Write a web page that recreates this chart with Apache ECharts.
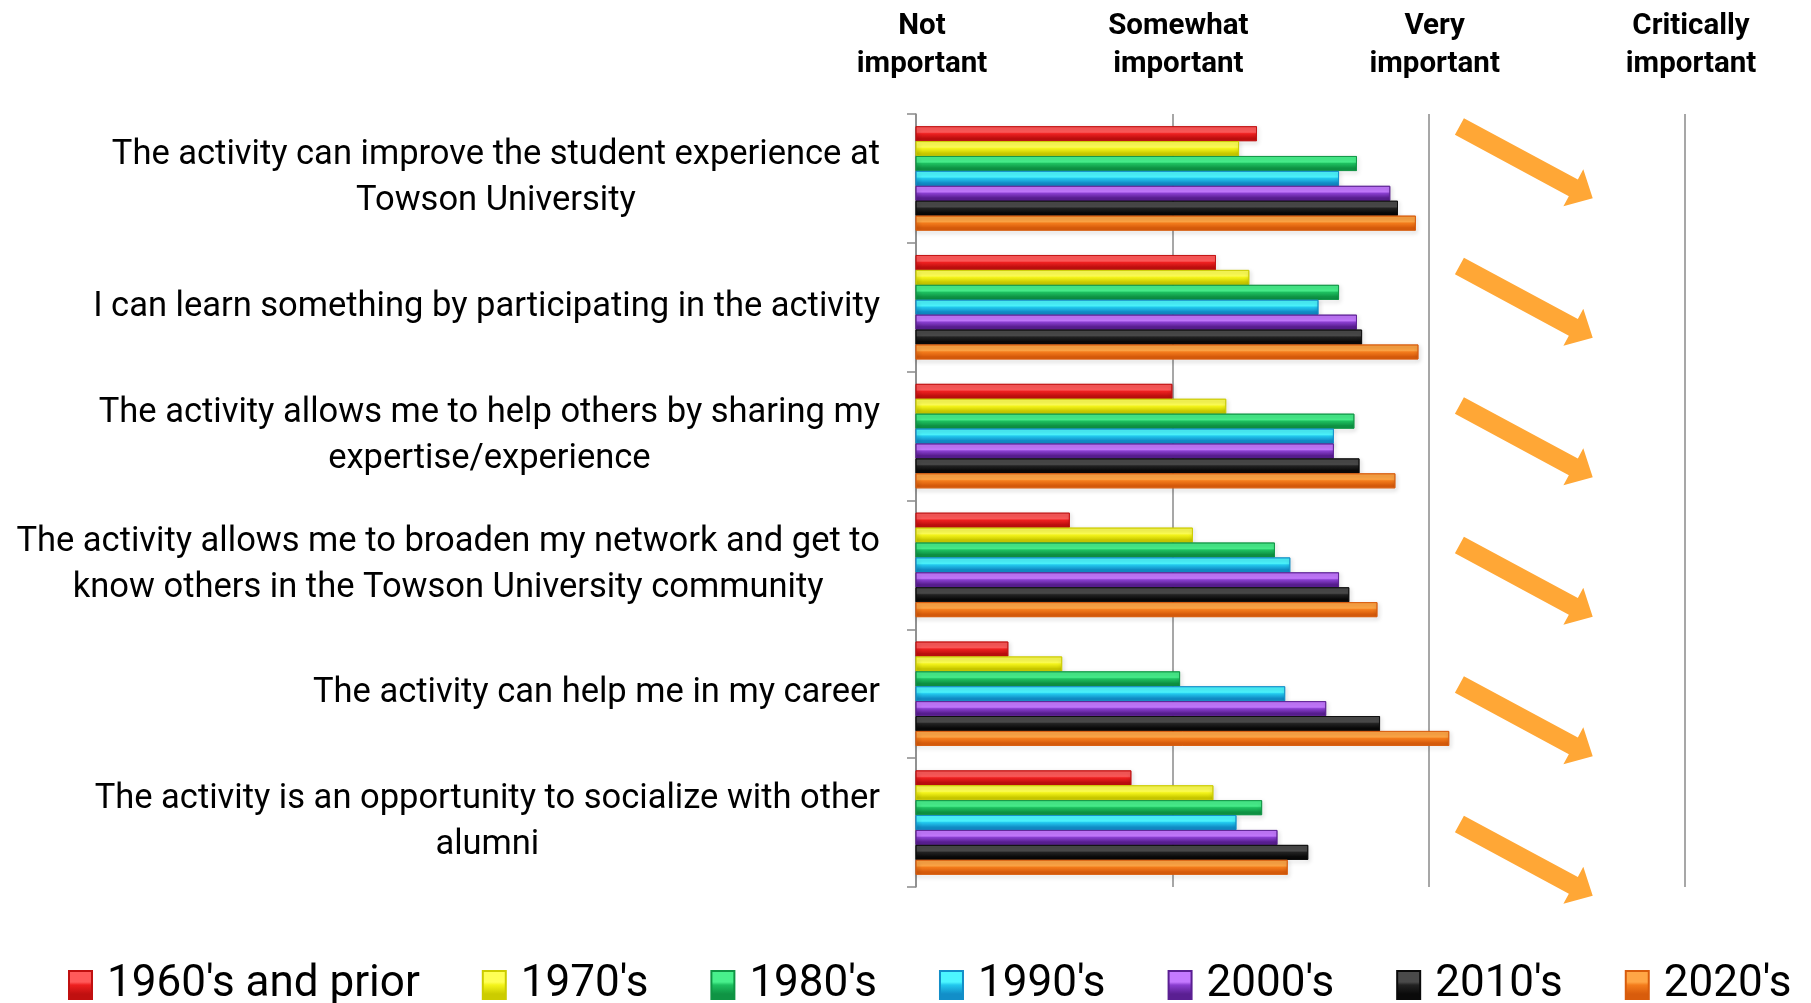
<!DOCTYPE html>
<html>
<head>
<meta charset="utf-8">
<script src="https://cdn.jsdelivr.net/npm/echarts@6/dist/echarts.min.js"></script>
<style>
  html, body { margin: 0; padding: 0; background: #ffffff; }
  #chart { width: 1811px; height: 1003px; }
</style>
</head>
<body>
<div id="chart"></div>
<script>
// Reasons alumni give for taking part in activities, rated on a 1–4 importance scale
const categories = [
  'The activity can improve the student experience at\nTowson University',
  'I can learn something by participating in the activity',
  'The activity allows me to help others by sharing my\nexpertise/experience',
  'The activity allows me to broaden my network and get to\nknow others in the Towson University community',
  'The activity can help me in my career',
  'The activity is an opportunity to socialize with other\nalumni'
];
const importanceLevels = ['Not\nimportant', 'Somewhat\nimportant', 'Very\nimportant', 'Critically\nimportant'];
const decades = ["1960's and prior", "1970's", "1980's", "1990's", "2000's", "2010's", "2020's"];

// Mean rating per graduating decade, one value per category above
const d1960 = [2.33, 2.17, 2.00, 1.60, 1.36, 1.84];
const d1970 = [2.26, 2.30, 2.21, 2.08, 1.57, 2.16];
const d1980 = [2.72, 2.65, 2.71, 2.40, 2.03, 2.35];
const d1990 = [2.65, 2.57, 2.63, 2.46, 2.44, 2.25];
const d2000 = [2.85, 2.72, 2.63, 2.65, 2.60, 2.41];
const d2010 = [2.88, 2.74, 2.73, 2.69, 2.81, 2.53];
const d2020 = [2.95, 2.96, 2.87, 2.80, 3.08, 2.45];

const seriesValues = [d1960, d1970, d1980, d1990, d2000, d2010, d2020];

// Bevel-like shading: [highlight, base, shadow]
const shades = [
  ['#ff5a5a', '#ee2020', '#c01010'],
  ['#ffff55', '#f4f41a', '#cccc00'],
  ['#48f08c', '#1ec060', '#0f9444'],
  ['#4cf6ff', '#22c8ee', '#128ec8'],
  ['#c479ff', '#8a3fd0', '#5a1f92'],
  ['#4a4a4a', '#222222', '#0a0a0a'],
  ['#ffa646', '#f47c1c', '#d85c0c']
];

const FONT = 'Roboto, "Noto Sans", sans-serif';
const AXIS_GRAY = '#8a8a8a';

function bevel(c) {
  return new echarts.graphic.LinearGradient(0, 0, 0, 1, [
    { offset: 0, color: c[0] },
    { offset: 0.4, color: c[0] },
    { offset: 0.5, color: c[1] },
    { offset: 0.8, color: c[2] },
    { offset: 1, color: c[2] }
  ]);
}

const chart = echarts.init(document.getElementById('chart'), null, { renderer: 'canvas' });

const series = decades.map((name, i) => ({
  name: name,
  type: 'bar',
  data: seriesValues[i],
  barGap: '0%',
  barCategoryGap: '19%',
  itemStyle: {
    color: bevel(shades[i]),
    borderColor: shades[i][2],
    borderWidth: 0.8,
    shadowColor: 'rgba(0,0,0,0.35)',
    shadowBlur: 4,
    shadowOffsetX: 1,
    shadowOffsetY: 2
  },
  emphasis: { disabled: true }
}));

chart.setOption({
  animation: false,
  backgroundColor: '#ffffff',
  grid: { left: 916, right: 126, top: 114, bottom: 116, containLabel: false },
  legend: {
    data: decades,
    left: 68,
    right: 0,
    top: 963,
    padding: 0,
    itemWidth: 23,
    itemHeight: 28,
    itemGap: 62,
    icon: 'rect',
    textStyle: { fontFamily: FONT, fontSize: 44, color: '#000000', padding: [0, 0, 0, 10] }
  },
  xAxis: {
    type: 'value',
    position: 'top',
    min: 1,
    max: 4,
    interval: 1,
    axisLine: { show: false },
    axisTick: { show: false },
    splitLine: { show: true, lineStyle: { color: AXIS_GRAY, width: 1.5 } },
    axisLabel: {
      margin: 30,
      padding: [0, 0, 0, 12],
      fontFamily: FONT,
      fontWeight: 'bold',
      fontSize: 29.5,
      lineHeight: 38,
      color: '#000000',
      formatter: v => importanceLevels[Math.round(v) - 1] || ''
    }
  },
  yAxis: {
    type: 'category',
    inverse: true,
    data: categories,
    axisLine: { show: true, lineStyle: { color: AXIS_GRAY, width: 1.5 } },
    axisTick: { show: true, length: 9, lineStyle: { color: AXIS_GRAY, width: 1.5 } },
    axisLabel: {
      margin: 36,
      align: 'right',
      formatter: v => v.split('\n').map(l => '{c|' + l + '}').join('\n'),
      rich: {
        c: { align: 'center', fontFamily: FONT, fontSize: 34.5, lineHeight: 46, color: '#000000' }
      }
    }
  },
  series: series
});

// Decorative arrows pointing down-right beside each group of bars
function arrowShape(tx, ty, hx, hy, shaftHalf, headHalf, headLen) {
  const dx = hx - tx, dy = hy - ty;
  const len = Math.sqrt(dx * dx + dy * dy);
  const ux = dx / len, uy = dy / len;
  const nx = -uy, ny = ux;
  const bx = hx - ux * headLen, by = hy - uy * headLen;
  return [
    [tx + nx * shaftHalf, ty + ny * shaftHalf],
    [bx + nx * shaftHalf, by + ny * shaftHalf],
    [bx + nx * headHalf, by + ny * headHalf],
    [hx, hy],
    [bx - nx * headHalf, by - ny * headHalf],
    [bx - nx * shaftHalf, by - ny * shaftHalf],
    [tx - nx * shaftHalf, ty - ny * shaftHalf]
  ];
}

const gridTop = 114;
const rowStep = 139.5;
const tailX = chart.convertToPixel({ xAxisIndex: 0 }, 3.12);
const headX = chart.convertToPixel({ xAxisIndex: 0 }, 3.64);
const rise = (headX - tailX) * 0.538;

const arrows = categories.map((c, k) => {
  const ty = gridTop + 12.5 + rowStep * k;
  return {
    type: 'polygon',
    silent: true,
    shape: { points: arrowShape(tailX, ty, headX, ty + rise, 9.5, 21, 22) },
    style: { fill: '#ffa736' }
  };
});

chart.setOption({ graphic: arrows });
</script>
</body>
</html>
